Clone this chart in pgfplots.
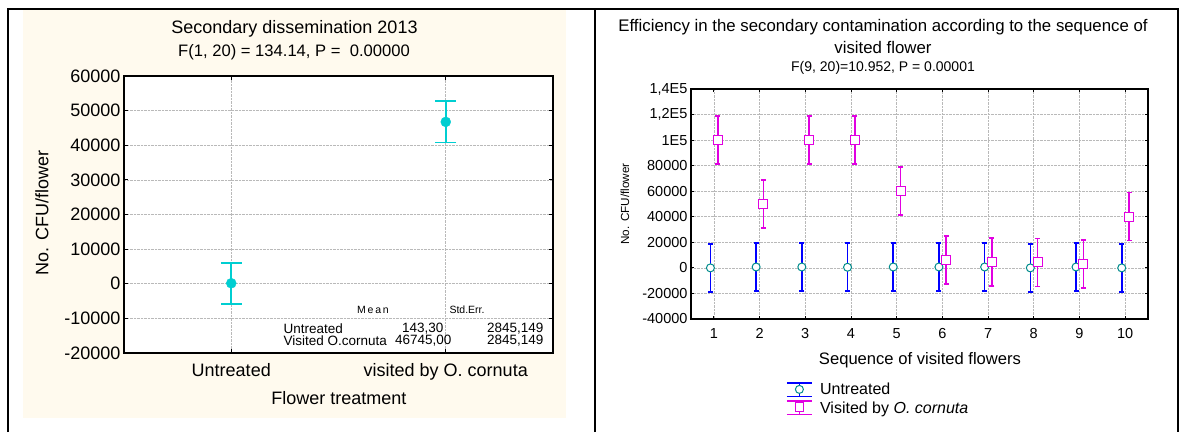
\documentclass[border=0pt]{standalone}
\usepackage{pgfplots}
\pgfplotsset{compat=1.18}
\usepackage{fontspec}
\setmainfont{Liberation Sans}

\definecolor{cyanL}{RGB}{0,206,209}
\definecolor{tealR}{RGB}{0,140,140}
\definecolor{blueR}{RGB}{0,0,255}
\definecolor{magR}{RGB}{225,0,225}
\definecolor{beige}{RGB}{255,250,238}

\newcommand{\fs}[1]{\fontsize{#1}{#1}\selectfont}

\begin{document}
\begin{tikzpicture}[x=1pt,y=1pt]
\useasboundingbox (0,0) rectangle (1182,432);
% panel backgrounds and frame
\fill[beige] (23,14) rectangle (566,422);
\draw[line width=2pt] (8,0) -- (8,423) -- (1178,423) -- (1178,0);
\draw[line width=2pt] (595,0) -- (595,423);

% ---------- left panel ----------
\begin{axis}[
  at={(124pt,79pt)}, anchor=south west, scale only axis,
  width=429pt, height=277pt,
  xmin=-0.5, xmax=1.5, ymin=-20000, ymax=60000,
  xtick={0,1}, xticklabels={Untreated, visited by O. cornuta},
  ytick={-20000,-10000,0,10000,20000,30000,40000,50000,60000},
  yticklabels={-20000,-10000,0,10000,20000,30000,40000,50000,60000},
  scaled y ticks=false,
  grid=major, major grid style={densely dotted, gray!55, line width=0.6pt},
  tick align=inside, major tick length=4pt, tick style={black, line width=0.8pt},
  axis line style={line width=1.3pt},
  axis background/.style={fill=white},
  tick label style={font=\fs{18}},
  xticklabel style={yshift=-7pt},
  clip=false,
]
\addplot[only marks, mark=*, mark size=5pt, color=cyanL,
  error bars/.cd, y dir=both, y explicit,
  error bar style={line width=1.8pt, draw=cyanL},
  error mark options={rotate=90, line width=1.8pt, mark size=10.5pt, draw=cyanL}]
  coordinates {(0,143.3) +- (0,5935) (1,46745) +- (0,5935)};
\end{axis}
\node[font=\fs{18}] at (294.5,403) {Secondary dissemination 2013};
\node[font=\fs{16.6}] at (294,380) {F(1, 20) = 134.14, P =\ \ 0.00000};
\node[font=\fs{18}, rotate=90] at (42,219) {No. CFU/flower};
\node[font=\fs{18}] at (339,34) {Flower treatment};
% summary table
\node[font=\fs{10.5}] at (373,122) {M\,e\,a\,n};
\node[font=\fs{10.5}] at (467,122) {Std.Err.};
\node[font=\fs{13.5}, anchor=west] at (280,103) {Untreated};
\node[font=\fs{13.5}, anchor=east] at (447,103) {143,30};
\node[font=\fs{13.5}, anchor=east] at (547,103) {2845,149};
\node[font=\fs{13.5}, anchor=west] at (280,91) {Visited O.cornuta};
\node[font=\fs{13.5}, anchor=east] at (455,91) {46745,00};
\node[font=\fs{13.5}, anchor=east] at (547,91) {2845,149};

% ---------- right panel ----------
\begin{axis}[
  at={(691pt,113pt)}, anchor=south west, scale only axis,
  width=457pt, height=230pt,
  xmin=0.5, xmax=10.5, ymin=-40000, ymax=140000,
  xtick={1,2,3,4,5,6,7,8,9,10},
  xticklabels={1,2,3,4,5,6,7,8,9,10},
  ytick={-40000,-20000,0,20000,40000,60000,80000,100000,120000,140000},
  yticklabels={-40000,-20000,0,20000,40000,60000,80000,1E5,{1,2E5},{1,4E5}},
  scaled y ticks=false,
  grid=major, major grid style={densely dotted, gray!55, line width=0.6pt},
  tick align=inside, major tick length=3pt, tick style={black, line width=0.8pt},
  axis line style={line width=1.2pt},
  tick label style={font=\fs{14.5}},
  xticklabel style={yshift=-6pt},
  legend style={draw=none, fill=none, at={(0.208,-0.268)}, anchor=north west,
    inner sep=0pt, row sep=0pt, font=\fs{16},
    nodes={inner sep=2.5pt},
    /tikz/every odd column/.append style={column sep=5pt}},
  legend cell align=left,
  clip=false,
]
\addplot[only marks, mark=*, mark size=4pt,
  mark options={draw=tealR, fill=white, line width=1pt},
  error bars/.cd, y dir=both, y explicit,
  error bar style={line width=1.6pt, draw=blueR},
  error mark options={rotate=90, line width=1.6pt, mark size=2.5pt, draw=blueR},
  /pgfplots/legend image code/.code={
    \draw[blueR, line width=1.3pt] (0pt,-6.5pt) -- (25pt,-6.5pt) (0pt,7pt) -- (25pt,7pt) (12.5pt,-6.5pt) -- (12.5pt,7pt);
    \draw[tealR, fill=white, line width=1pt] (12.5pt,0.5pt) circle (4pt);}]
  coordinates {
  (0.925,0) +- (0,18800)
  (1.925,700) +- (0,18800)
  (2.925,700) +- (0,18800)
  (3.925,500) +- (0,18800)
  (4.925,700) +- (0,18800)
  (5.925,700) +- (0,18800)
  (6.925,700) +- (0,18800)
  (7.925,0) +- (0,18800)
  (8.925,700) +- (0,18800)
  (9.925,0) +- (0,18800)
  };
\addlegendentry{Untreated}
\addplot[only marks, mark=square*, mark size=4.5pt,
  mark options={draw=magR, fill=white, line width=1pt},
  error bars/.cd, y dir=both, y explicit,
  error bar style={line width=1.6pt, draw=magR},
  error mark options={rotate=90, line width=1.6pt, mark size=2.5pt, draw=magR},
  /pgfplots/legend image code/.code={
    \draw[magR, line width=1.3pt] (0pt,-6.5pt) -- (25pt,-6.5pt) (0pt,7pt) -- (25pt,7pt) (12.5pt,-6.5pt) -- (12.5pt,7pt);
    \draw[magR, fill=white, line width=1pt] (8.5pt,-4pt) rectangle (16.5pt,5pt);}]
  coordinates {
  (1.085,100200) +- (0,18800)
  (2.085,50200) +- (0,18800)
  (3.085,100200) +- (0,18800)
  (4.085,100200) +- (0,18800)
  (5.085,60300) +- (0,18800)
  (6.085,6000) +- (0,18800)
  (7.085,4500) +- (0,18800)
  (8.085,4300) +- (0,18800)
  (9.085,3200) +- (0,18800)
  (10.085,40200) +- (0,18800)
  };
\addlegendentry{Visited by \textit{O. cornuta}}
\end{axis}
\node[font=\fs{16.8}] at (883,405) {Efficiency in the secondary contamination according to the sequence of};
\node[font=\fs{16.8}] at (883,385) {visited flower};
\node[font=\fs{14}] at (883,364) {F(9, 20)=10.952, P = 0.00001};
\node[font=\fs{11.7}, rotate=90] at (625,228) {No. CFU/flower};
\node[font=\fs{16.6}] at (920,72) {Sequence of visited flowers};
\end{tikzpicture}
\end{document}
